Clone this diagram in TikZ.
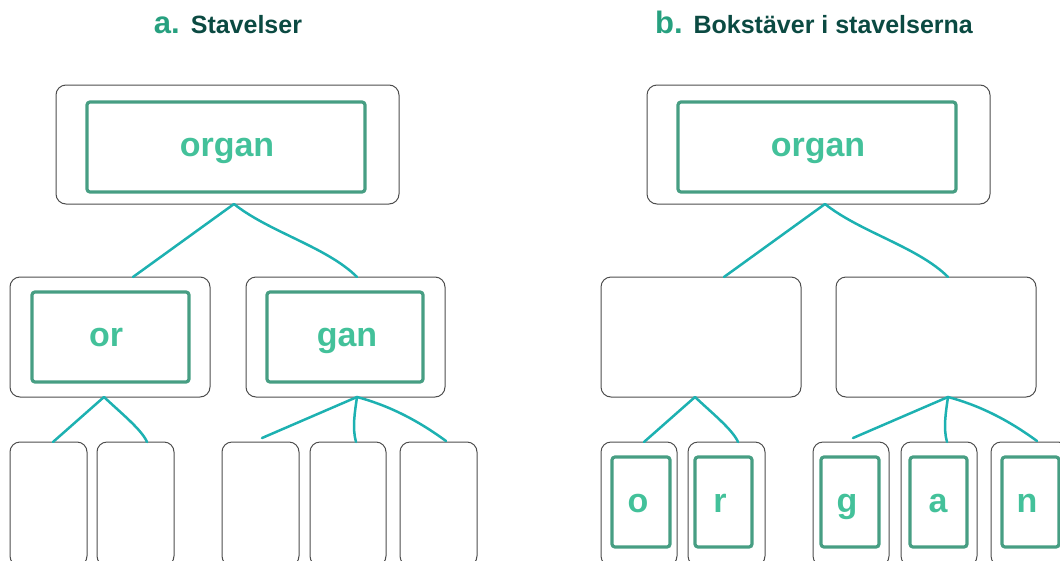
\documentclass[tikz,border=0pt]{standalone}
\usepackage{fontspec}
\setmainfont{Liberation Sans}
\definecolor{framegray}{HTML}{4D4D4D}
\definecolor{innergreen}{HTML}{479E83}
\definecolor{textgreen}{HTML}{43C19A}
\definecolor{linkteal}{HTML}{1DB1B1}
\definecolor{labelgreen}{HTML}{27A07F}
\definecolor{titledark}{HTML}{0B4A42}
\tikzset{
  outerbox/.style={draw=framegray, line width=1pt, rounded corners=10pt, inner sep=0pt, outer sep=0pt},
  innerbox/.style={draw=innergreen, line width=3.2pt, rounded corners=3pt, inner sep=0pt, outer sep=0pt},
  word/.style={text=textgreen, font=\fontsize{34}{34}\selectfont\bfseries, inner sep=0pt, anchor=base},
  title/.style={font=\fontsize{25}{25}\selectfont\bfseries, text=titledark, inner sep=0pt, anchor=base},
  link/.style={draw=linkteal, line width=2.5pt, line cap=round},
}
\newcommand{\panellabel}[1]{{\color{labelgreen}\fontsize{31}{31}\selectfont #1}\hspace{11pt}}
\begin{document}
\begin{tikzpicture}[x=1pt,y=-1pt]
\useasboundingbox (0,0) rectangle (1060,560);
\clip (0,0) rectangle (1060,560);

% ---------------- titles
\node[title] (ta) at (228,33) {\panellabel{a.}Stavelser};
\node[title] (tb) at (814,33) {\panellabel{b.}Bokstäver i stavelserna};

% ================= panel a
\node[outerbox, minimum width=343pt, minimum height=119pt] (aTop) at (227.5,144.5) {};
\node[innerbox, minimum width=278pt, minimum height=90pt] (aTopIn) at (226,147) {};
\node[word] (aTopW) at (227,156) {organ};

\node[outerbox, minimum width=200pt, minimum height=120pt] (aOr) at (110,337) {};
\node[innerbox, minimum width=157pt, minimum height=90pt] (aOrIn) at (110.5,337) {};
\node[word] (aOrW) at (106,346) {or};

\node[outerbox, minimum width=199pt, minimum height=120pt] (aGan) at (345.5,337) {};
\node[innerbox, minimum width=156pt, minimum height=90pt] (aGanIn) at (345,337) {};
\node[word] (aGanW) at (347,346) {gan};

\node[outerbox, minimum width=77pt, minimum height=124pt] (aB1) at (48.5,504) {};
\node[outerbox, minimum width=77pt, minimum height=124pt] (aB2) at (135.5,504) {};
\node[outerbox, minimum width=77pt, minimum height=124pt] (aB3) at (260.5,504) {};
\node[outerbox, minimum width=76pt, minimum height=124pt] (aB4) at (348,504) {};
\node[outerbox, minimum width=77pt, minimum height=124pt] (aB5) at (438.5,504) {};

\coordinate (aFreeL) at (262,438);
\coordinate (aFreeR) at (446,441);

\draw[link] ([xshift=6.5pt]aTop.south) -- ([xshift=23pt]aOr.north);
\draw[link] ([xshift=6.5pt]aTop.south) .. controls +(35,28) and +(-30,-30) .. ([xshift=11.5pt]aGan.north);
\draw[link] ([xshift=-6pt]aOr.south) -- ([xshift=4.5pt]aB1.north);
\draw[link] ([xshift=-6pt]aOr.south) .. controls +(17,16) and +(-5,-12) .. ([xshift=11.5pt]aB2.north);
\draw[link] ([xshift=11.5pt]aGan.south) -- (aFreeL);
\draw[link] ([xshift=11.5pt]aGan.south) .. controls +(-2,14) and +(-4,-14) .. ([xshift=8pt]aB4.north);
\draw[link] ([xshift=11.5pt]aGan.south) .. controls +(30,8) and +(-30,-22) .. (aFreeR);

% ================= panel b
\node[outerbox, minimum width=343pt, minimum height=119pt] (bTop) at (818.5,144.5) {};
\node[innerbox, minimum width=278pt, minimum height=90pt] (bTopIn) at (817,147) {};
\node[word] (bTopW) at (818,156) {organ};

\node[outerbox, minimum width=200pt, minimum height=120pt] (bL) at (701,337) {};
\node[outerbox, minimum width=200pt, minimum height=120pt] (bR) at (936,337) {};

\node[outerbox, minimum width=76pt, minimum height=124pt] (bB1) at (639,504) {};
\node[outerbox, minimum width=77pt, minimum height=124pt] (bB2) at (726.5,504) {};
\node[outerbox, minimum width=76pt, minimum height=124pt] (bB3) at (851,504) {};
\node[outerbox, minimum width=76pt, minimum height=124pt] (bB4) at (939,504) {};
\node[outerbox, minimum width=77pt, minimum height=124pt] (bB5) at (1029.5,504) {};

\node[innerbox, minimum width=58pt, minimum height=90pt] (bI1) at (641,502) {};
\node[innerbox, minimum width=57pt, minimum height=90pt] (bI2) at (723.5,502) {};
\node[innerbox, minimum width=58pt, minimum height=90pt] (bI3) at (850,502) {};
\node[innerbox, minimum width=57pt, minimum height=90pt] (bI4) at (938.5,502) {};
\node[innerbox, minimum width=57pt, minimum height=90pt] (bI5) at (1030.5,502) {};

\node[word] (bW1) at (638,512) {o};
\node[word] (bW2) at (720,512) {r};
\node[word] (bW3) at (847,512) {g};
\node[word] (bW4) at (938,512) {a};
\node[word] (bW5) at (1027,512) {n};

\coordinate (bFreeL) at (853,438);
\coordinate (bFreeR) at (1037,441);

\draw[link] ([xshift=6.5pt]bTop.south) -- ([xshift=23pt]bL.north);
\draw[link] ([xshift=6.5pt]bTop.south) .. controls +(35,28) and +(-30,-30) .. ([xshift=12pt]bR.north);
\draw[link] ([xshift=-6pt]bL.south) -- ([xshift=5pt]bB1.north);
\draw[link] ([xshift=-6pt]bL.south) .. controls +(17,16) and +(-5,-12) .. ([xshift=11.5pt]bB2.north);
\draw[link] ([xshift=12pt]bR.south) -- (bFreeL);
\draw[link] ([xshift=12pt]bR.south) .. controls +(-2,14) and +(-4,-14) .. ([xshift=8pt]bB4.north);
\draw[link] ([xshift=12pt]bR.south) .. controls +(30,8) and +(-30,-22) .. (bFreeR);
\end{tikzpicture}
\end{document}
